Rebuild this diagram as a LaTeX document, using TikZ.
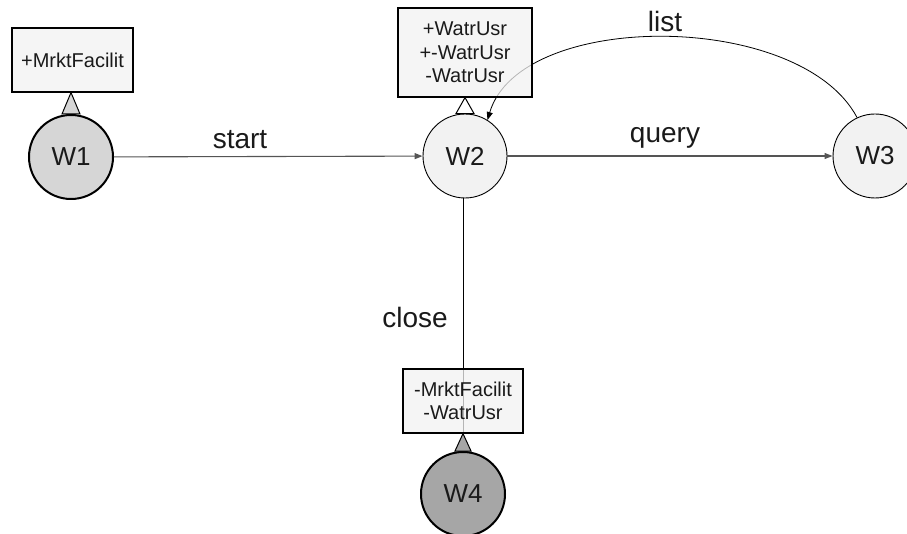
\documentclass[tikz,border=0pt]{standalone}
\usepackage{fontspec}
\setmainfont{Liberation Sans}
\usetikzlibrary{arrows.meta,calc}
\definecolor{paleFill}{HTML}{F2F2F2}
\definecolor{midFill}{HTML}{D6D6D6}
\definecolor{darkFill}{HTML}{A6A6A6}
\definecolor{lineGrey}{HTML}{555555}
\definecolor{inkText}{HTML}{1A1A1A}
\begin{document}
\begin{tikzpicture}[x=1pt,y=-1pt,
  state/.style={circle, draw=black, minimum size=84pt, inner sep=0pt,
    font=\fontsize{26}{30}\selectfont, text=inkText},
  propbox/.style={rectangle, draw=black, line width=1.2pt, fill=paleFill,
    fill opacity=0.75, text opacity=1, inner sep=0pt, align=center,
    font=\fontsize{20}{23.5}\selectfont, text=inkText},
  tri/.style={draw=black, line width=1pt, line join=miter},
  edgelabel/.style={font=\fontsize{28}{32}\selectfont, text=inkText, anchor=base, inner sep=0pt},
  conn/.style={-{Triangle[length=8pt,width=6pt]}, line width=1.1pt},
]
\useasboundingbox (0,0) rectangle (907,534);

% states
\node[state, fill=midFill, line width=2pt] (W1) at (71,157) {W1};
\node[state, fill=paleFill, line width=0.9pt] (W2) at (465,156) {W2};
\node[state, fill=paleFill, line width=0.9pt] (W3) at (875,156) {W3};
\node[state, fill=darkFill, line width=2pt] (W4) at (463,494) {W4};

% connectors
\draw[conn, draw=lineGrey] (W1) -- (W2);
\draw[conn, draw=lineGrey] (W2) -- (W3);
\draw[conn, draw=black, line width=0.9pt] (W2.south -| W4.north) -- (W4.north);
\draw[-{Triangle[length=8pt,width=6pt]}, line width=0.8pt, draw=black]
  (W3.115) .. controls (800,10) and (520,10) .. (W2.58);

% labels
\node[edgelabel] (lstart) at (240,149) {start};
\node[edgelabel] (lquery) at (665,143) {query};
\node[edgelabel] (llist) at (665,32) {list};
\node[edgelabel] (lclose) at (415,327) {close};

% property boxes
\node[propbox, minimum width=121pt, minimum height=64pt] (B1) at (72.5,60) {+MrktFacilit};
\node[propbox, minimum width=134pt, minimum height=89pt] (B2) at (465,52.5) {+WatrUsr\\+-WatrUsr\\-WatrUsr};
\node[propbox, minimum width=120pt, minimum height=64pt] (B4) at (463,401) {-MrktFacilit\\-WatrUsr};

% pointer triangles
\draw[tri, fill=midFill] ($(W1.north)+(-9,0)$) -- (B1.south -| W1.north) -- ($(W1.north)+(9,0)$) -- cycle;
\draw[tri, fill=white] ($(W2.north)+(-9,0)$) -- (B2.south -| W2.north) -- ($(W2.north)+(9,0)$) -- cycle;
\draw[tri, fill=darkFill] ($(W4.north)+(-8,0)$) -- (B4.south -| W4.north) -- ($(W4.north)+(8,0)$) -- cycle;
\end{tikzpicture}
\end{document}
